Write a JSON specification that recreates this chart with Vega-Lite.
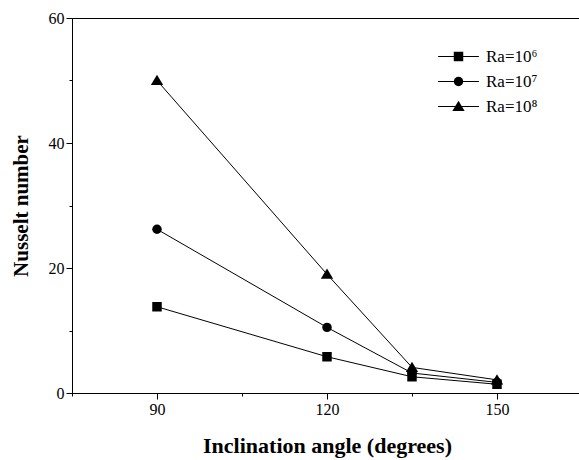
{
  "$schema": "https://vega.github.io/schema/vega-lite/v6.json",
  "width": 510,
  "height": 375,
  "autosize": {"type": "none"},
  "padding": {"left": 72, "top": 18, "right": 0, "bottom": 67},
  "background": "white",
  "config": {
    "font": "Liberation Serif",
    "view": {"stroke": "black", "strokeWidth": 1}
  },
  "data": {
    "values": [
      {"ra": "Ra=10⁶", "angle": 90, "nu": 13.8},
      {"ra": "Ra=10⁶", "angle": 120, "nu": 5.8},
      {"ra": "Ra=10⁶", "angle": 135, "nu": 2.6},
      {"ra": "Ra=10⁶", "angle": 150, "nu": 1.4},
      {"ra": "Ra=10⁷", "angle": 90, "nu": 26.2},
      {"ra": "Ra=10⁷", "angle": 120, "nu": 10.5},
      {"ra": "Ra=10⁷", "angle": 135, "nu": 3.2},
      {"ra": "Ra=10⁷", "angle": 150, "nu": 1.7},
      {"ra": "Ra=10⁸", "angle": 90, "nu": 50},
      {"ra": "Ra=10⁸", "angle": 120, "nu": 19},
      {"ra": "Ra=10⁸", "angle": 135, "nu": 4.1},
      {"ra": "Ra=10⁸", "angle": 150, "nu": 2.1}
    ]
  },
  "encoding": {
    "x": {
      "field": "angle",
      "type": "quantitative",
      "scale": {"domain": [75, 165], "nice": false, "zero": false},
      "axis": {
        "values": [75, 90, 105, 120, 135, 150, 165],
        "labelExpr": "datum.value % 30 === 0 ? datum.label : ''",
        "tickSize": {"condition": {"test": "datum.value % 30 === 0", "value": 6}, "value": 3},
        "grid": false,
        "domainColor": "black",
        "tickColor": "black",
        "labelColor": "black",
        "labelFontSize": 16,
        "labelPadding": 2,
        "title": "Inclination angle (degrees)",
        "titleFontSize": 22,
        "titleFontWeight": "bold",
        "titleColor": "black",
        "titlePadding": 18
      }
    },
    "y": {
      "field": "nu",
      "type": "quantitative",
      "scale": {"domain": [0, 60], "nice": false},
      "axis": {
        "values": [0, 10, 20, 30, 40, 50, 60],
        "labelExpr": "datum.value % 20 === 0 ? datum.label : ''",
        "tickSize": {"condition": {"test": "datum.value % 20 === 0", "value": 6}, "value": 3},
        "grid": false,
        "domainColor": "black",
        "tickColor": "black",
        "labelColor": "black",
        "labelFontSize": 16,
        "labelPadding": 2,
        "title": "Nusselt number",
        "titleFontSize": 21,
        "titleFontWeight": "bold",
        "titleColor": "black",
        "titlePadding": 17
      }
    }
  },
  "layer": [
    {
      "mark": {"type": "line", "strokeWidth": 1},
      "encoding": {
        "color": {
          "field": "ra",
          "type": "nominal",
          "scale": {"range": ["black", "black", "black"]},
          "legend": {
            "orient": "none",
            "legendX": 378,
            "legendY": 30,
            "title": null,
            "symbolType": "M-4.3,0H4.3",
            "symbolSize": 90,
            "symbolStrokeWidth": 1,
            "labelFontSize": 17,
            "labelOpacity": 0,
            "labelOffset": 19,
            "rowPadding": 7
          }
        }
      }
    },
    {
      "mark": {"type": "point", "filled": true, "color": "black", "opacity": 1, "size": 90},
      "encoding": {
        "shape": {
          "field": "ra",
          "type": "nominal",
          "scale": {
            "domain": ["Ra=10⁶", "Ra=10⁷", "Ra=10⁸"],
            "range": ["square", "circle", "M0,-1.2L1.3,0.95L-1.3,0.95Z"]
          },
          "legend": {
            "orient": "none",
            "legendX": 378,
            "legendY": 30,
            "title": null,
            "symbolSize": 90,
            "symbolFillColor": "black",
            "symbolStrokeColor": "black",
            "symbolOpacity": 1,
            "labelFont": "Liberation Serif",
            "labelFontSize": 17,
            "labelColor": "black",
            "labelOffset": 19,
            "rowPadding": 7
          }
        }
      }
    }
  ]
}
